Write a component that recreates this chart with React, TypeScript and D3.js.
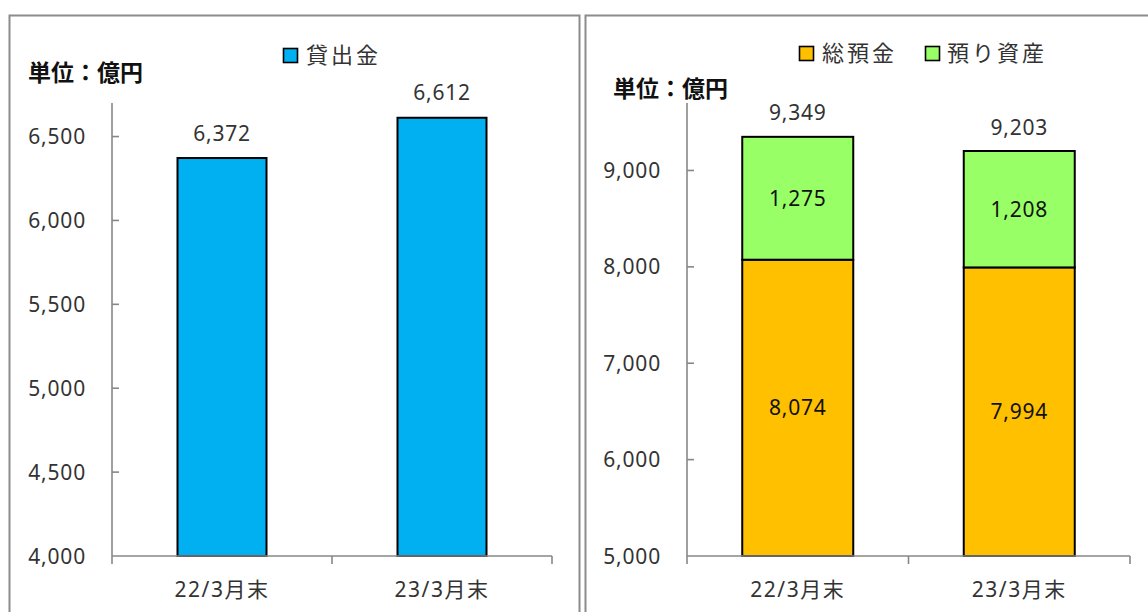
import React from "react";
import * as d3 from "d3";

const categories = ["22/3月末", "23/3月末"];
const loans = [6372, 6612];
const deposits = [8074, 7994];
const assets = [1275, 1208];
const totals = [9349, 9203];
const leftTicks = [4000, 4500, 5000, 5500, 6000, 6500];
const rightTicks = [5000, 6000, 7000, 8000, 9000];
const leftLegend = ["貸出金"];
const rightLegend = ["総預金", "預り資産"];
const unitLabel = "単位：億円";

const FONT = "'Noto Sans', 'Noto Sans CJK JP', sans-serif";
const TXT = "#333";
const AX = "#878787";
const BLUE = "#00B0F0";
const ORANGE = "#FFC000";
const GREEN = "#99FF66";
const fmt = d3.format(",");

function Axes({ x, y, ticks, x0, x1, y0 }: any) {
  const yTop = y.range()[1];
  return (
    <g>
      <line x1={x0} x2={x0} y1={yTop} y2={y0 + 8} stroke={AX} strokeWidth={1.6} />
      <line x1={x0} x2={x1} y1={y0} y2={y0} stroke={AX} strokeWidth={1.6} />
      {ticks.map((t: number) => (
        <g key={t}>
          {t !== ticks[0] && (
            <line x1={x0} x2={x0 + 7} y1={y(t)} y2={y(t)} stroke={AX} strokeWidth={1.6} />
          )}
          <text x={x0 - 26} y={y(t)} dy="0.36em" textAnchor="end" fontSize={21} fill={TXT} letterSpacing={0.8}>
            {fmt(t)}
          </text>
        </g>
      ))}
      {categories.map((c, i) => (
        <g key={c}>
          <line x1={x(c)! + x.step()} x2={x(c)! + x.step()} y1={y0} y2={y0 + 8} stroke={AX} strokeWidth={1.6} />
          <text x={x(c)! + x.step() / 2} y={589} dy="0.36em" textAnchor="middle" fontSize={21} fill={TXT} letterSpacing={1.5}>
            {c}
          </text>
        </g>
      ))}
    </g>
  );
}

export default function App() {
  // Left chart
  const lx0 = 112, lx1 = 552, base = 556;
  const lx = d3.scaleBand<string>().domain(categories).range([lx0, lx1]).paddingInner(0).paddingOuter(0);
  const ly = d3.scaleLinear().domain([4000, 6700]).range([base, 103]);
  const lbw = 89;

  // Right chart
  const rx0 = 687, rx1 = 1130;
  const rx = d3.scaleBand<string>().domain(categories).range([rx0, rx1]);
  const ry = d3.scaleLinear().domain([5000, 9700]).range([base, 103]);
  const rbw = 111;

  return (
    <svg width={1148} height={612} style={{ position: "absolute", left: 0, top: 0, fontFamily: FONT }}>
      <rect x={0} y={0} width={1148} height={612} fill="#fff" />
      <rect x={9.5} y={15.5} width={570} height={620} fill="none" stroke="#8c8c8c" strokeWidth={2} />
      <rect x={585.5} y={15.5} width={600} height={620} fill="none" stroke="#8c8c8c" strokeWidth={2} />

      {/* Left chart */}
      <text x={28} y={73} dy="0.36em" fontSize={23} fontWeight="bold" fill="#111" fontFamily="'Noto Sans CJK JP', sans-serif">{unitLabel}</text>
      <rect x={283.5} y={48.5} width={14} height={14} fill={BLUE} stroke="#000" strokeWidth={1.6} />
      <text x={306} y={55} dy="0.36em" fontSize={22} fill={TXT} letterSpacing={3}>{leftLegend[0]}</text>
      {categories.map((c, i) => {
        const cx = lx(c)! + lx.bandwidth() / 2;
        return (
          <g key={c}>
            <rect x={cx - lbw / 2} y={ly(loans[i])} width={lbw} height={base - ly(loans[i])} fill={BLUE} stroke="#000" strokeWidth={2} />
            <text x={cx} y={ly(loans[i]) - 25} dy="0.36em" textAnchor="middle" fontSize={21} fill={TXT} letterSpacing={0.8}>
              {fmt(loans[i])}
            </text>
          </g>
        );
      })}
      <Axes x={lx} y={ly} ticks={leftTicks} x0={lx0} x1={lx1} y0={base} />

      {/* Right chart */}
      <text x={613} y={89} dy="0.36em" fontSize={23} fontWeight="bold" fill="#111" fontFamily="'Noto Sans CJK JP', sans-serif">{unitLabel}</text>
      <rect x={799.5} y={46.5} width={14} height={14} fill={ORANGE} stroke="#000" strokeWidth={1.6} />
      <text x={822} y={53} dy="0.36em" fontSize={22} fill={TXT} letterSpacing={3}>{rightLegend[0]}</text>
      <rect x={925.5} y={46.5} width={14} height={14} fill={GREEN} stroke="#000" strokeWidth={1.6} />
      <text x={947} y={53} dy="0.36em" fontSize={22} fill={TXT} letterSpacing={3}>{rightLegend[1]}</text>
      {categories.map((c, i) => {
        const cx = rx(c)! + rx.bandwidth() / 2;
        const yd = ry(deposits[i]);
        const ya = ry(deposits[i] + assets[i]);
        return (
          <g key={c}>
            <rect x={cx - rbw / 2} y={yd} width={rbw} height={base - yd} fill={ORANGE} stroke="#000" strokeWidth={2} />
            <rect x={cx - rbw / 2} y={ya} width={rbw} height={yd - ya} fill={GREEN} stroke="#000" strokeWidth={2} />
            <text x={cx} y={(yd + base) / 2} dy="0.36em" textAnchor="middle" fontSize={21} fill="#111" letterSpacing={0.8}>
              {fmt(deposits[i])}
            </text>
            <text x={cx} y={(yd + ya) / 2} dy="0.36em" textAnchor="middle" fontSize={21} fill="#111" letterSpacing={0.8}>
              {fmt(assets[i])}
            </text>
            <text x={cx} y={ya - 24} dy="0.36em" textAnchor="middle" fontSize={21} fill={TXT} letterSpacing={0.8}>
              {fmt(totals[i])}
            </text>
          </g>
        );
      })}
      <Axes x={rx} y={ry} ticks={rightTicks} x0={rx0} x1={rx1} y0={base} />
    </svg>
  );
}
